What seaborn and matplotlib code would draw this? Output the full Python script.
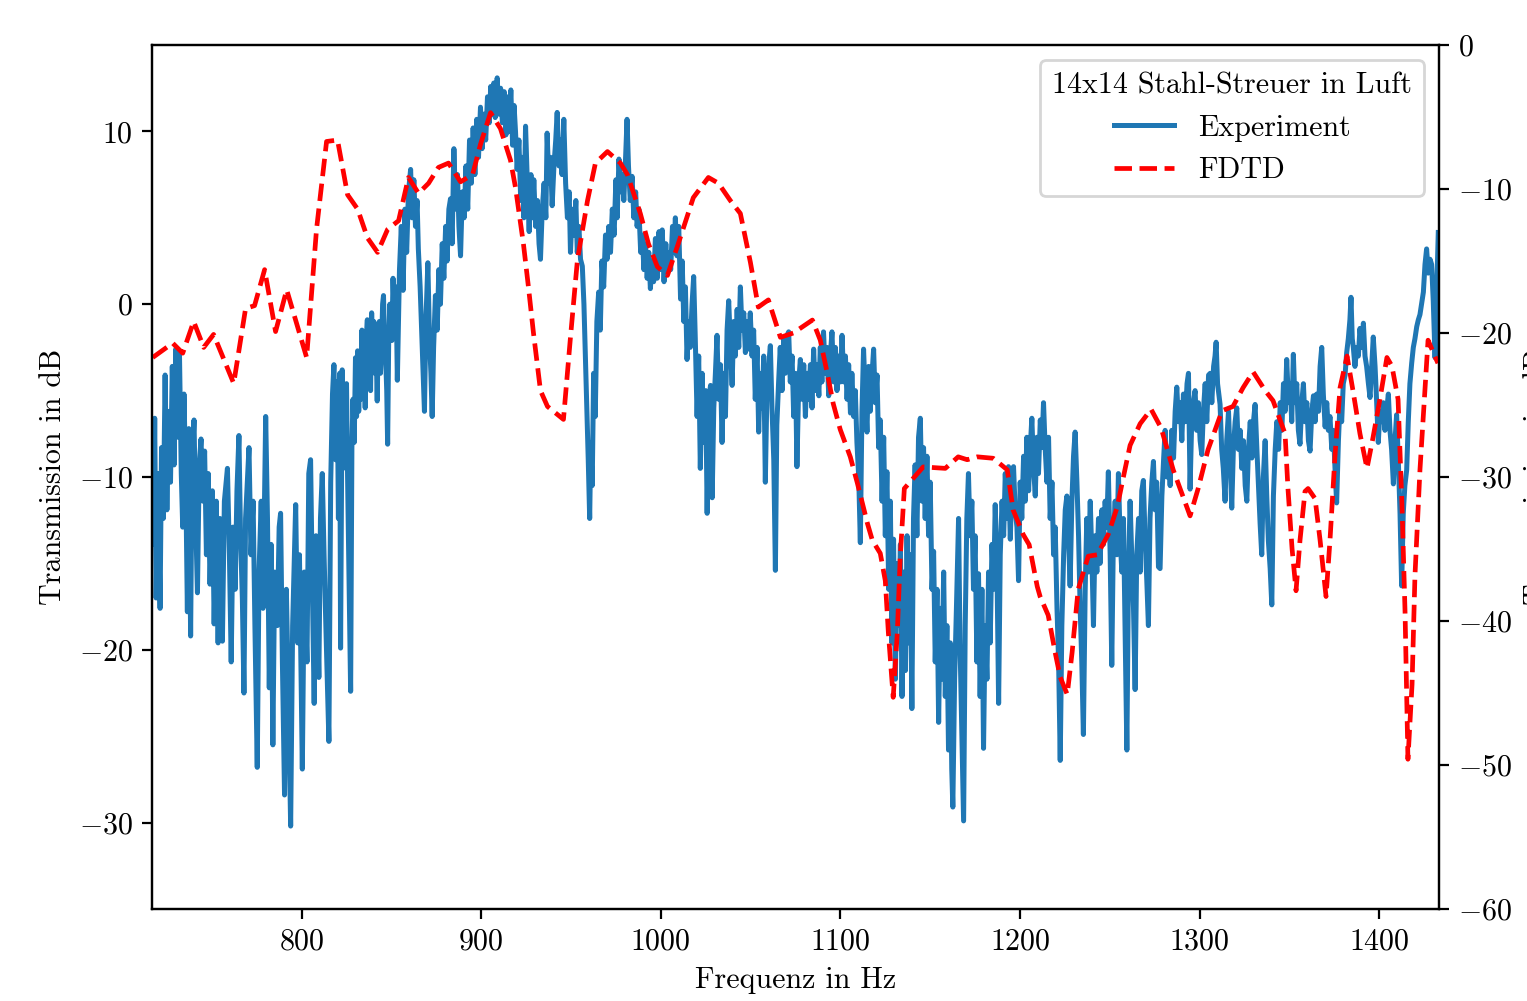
import numpy as np
import matplotlib
matplotlib.use("Agg")
import matplotlib.pyplot as plt
import seaborn as sns

# ---------------- data ----------------
title_text = "14x14 Stahl-Streuer in Luft"
series_names = ["Experiment", "FDTD"]
x_ticks = [800, 900, 1000, 1100, 1200, 1300, 1400]
left_ticks = [-30, -20, -10, 0, 10]
right_ticks = [-60, -50, -40, -30, -20, -10, 0]

# Experiment (Hz, dB) - left axis
exp_seg_a = [
    (716.7, -8.3), (717.5, -13.9), (718.2, -6.6), (719.0, -17.0), (720.0, -9.8), (721.2, -17.6),
    (722.0, -8.3), (723.0, -12.4), (724.0, -4.1), (725.0, -11.9), (726.0, -6.2), (727.0, -10.3),
    (728.0, -3.6), (729.0, -9.3), (729.9, -2.6), (731.0, -7.7), (732.0, -2.9), (733.0, -9.8),
    (733.8, -12.9), (734.5, -5.2), (735.5, -10.3), (736.4, -17.8), (737.2, -7.2), (738.2, -19.2),
    (739.0, -9.3), (740.1, -6.7), (741.0, -12.4), (742.0, -16.7), (743.0, -9.3), (744.0, -7.8),
    (745.0, -11.4), (746.0, -8.5), (747.0, -14.5), (748.0, -9.8), (749.0, -16.2), (750.3, -10.8),
    (751.3, -18.5), (752.5, -11.4), (753.5, -19.6), (754.5, -12.4), (755.9, -19.5), (757.0, -11.4),
    (758.7, -9.5), (759.8, -14.5), (760.8, -20.7), (761.8, -12.9), (763.0, -16.5), (764.0, -10.8),
    (765.1, -7.6), (766.0, -13.4), (767.0, -17.0), (767.9, -22.5), (768.8, -12.4), (770.0, -9.8),
    (770.7, -8.3), (771.8, -14.5), (773.0, -11.4), (774.0, -18.6), (775.3, -26.8), (776.3, -15.5),
    (777.5, -11.4), (778.5, -17.6), (780.0, -6.5), (781.0, -12.4), (782.0, -22.2), (783.0, -13.9),
    (784.0, -25.5), (785.0, -15.5), (786.5, -18.6), (787.5, -12.9), (788.3, -12.1), (789.3, -20.7),
    (790.5, -28.4), (791.5, -16.5), (792.5, -21.7), (793.9, -30.2), (795.0, -18.6), (796.7, -11.6),
    (797.8, -19.6), (798.8, -14.5), (800.4, -26.9), (801.5, -15.5), (803.0, -20.7), (804.0, -9.8),
    (805.0, -9.0), (806.0, -16.5), (807.0, -23.1), (808.0, -13.4), (809.6, -21.6), (810.5, -12.4),
    (811.5, -9.8), (812.5, -14.5), (813.5, -18.6), (815.2, -25.3), (816.2, -10.3), (817.2, -5.2),
    (818.0, -3.5), (818.9, -9.0), (819.8, -4.5), (820.5, -12.4), (821.2, -4.0), (821.7, -19.9),
    (822.6, -3.8), (823.1, -9.5), (823.6, -6.0), (824.2, -9.0), (825.0, -4.6), (825.6, -10.0),
    (826.2, -14.5), (827.3, -22.4), (828.0, -8.3), (828.6, -5.5), (829.3, -8.0), (830.0, -3.1),
    (830.6, -6.5), (831.2, -2.7), (831.8, -6.2), (832.4, -3.0), (833.0, -5.5), (833.6, -1.5),
    (834.2, -5.0), (834.8, -2.5), (835.4, -6.0), (836.0, -2.0), (836.6, -0.9), (837.2, -4.5),
    (837.8, -1.5), (838.4, -5.0), (839.0, -0.5), (839.6, -3.5), (840.2, -1.0), (840.8, -4.0),
    (841.4, -2.0), (842.1, -5.6), (842.7, -1.5), (843.3, -1.0), (843.9, -4.0), (844.5, -2.6),
    (845.1, 0.0), (845.6, 0.5), (846.2, -2.5), (846.8, -3.1), (847.4, -5.0), (847.9, -8.1),
    (848.5, -2.0), (849.1, 0.0), (849.7, -1.5), (850.3, -2.1), (850.9, 1.5), (851.5, -0.5),
    (852.0, -1.0), (852.6, 1.0), (853.3, -4.4),
]
exp_seg_b = [
    (854.5, 2.0), (855.5, 4.5), (856.5, 0.8), (857.5, 5.5), (858.5, 3.0), (859.5, 6.5),
    (860.7, 7.8), (861.5, 5.0), (862.5, 7.2), (863.4, 4.5), (864.3, 6.0), (865.0, 3.2),
    (866.0, 1.0), (867.0, -2.0), (868.0, -5.0), (868.4, -6.2), (869.2, -1.0), (870.3, 2.4),
    (871.2, -2.0), (872.0, -4.0), (872.7, -6.5), (873.5, -2.5), (874.5, 0.5), (875.5, -1.5),
    (876.4, 2.0), (877.3, 0.0), (878.3, 3.5), (879.2, 1.5), (880.2, 4.5), (881.0, 2.5),
    (882.0, 5.5), (882.9, 6.1), (883.8, 3.5), (884.8, 9.0), (885.8, 5.5), (886.8, 7.5),
    (887.6, 4.5), (888.5, 2.8), (889.5, 6.5), (890.5, 5.0), (891.5, 8.0), (892.5, 5.5),
    (893.5, 9.5), (894.5, 7.0), (895.5, 10.2), (896.5, 7.5), (897.5, 10.7), (898.5, 8.5),
    (899.6, 11.4), (900.5, 9.0), (901.5, 11.0), (902.5, 9.5), (903.5, 12.0), (904.5, 10.5),
    (905.3, 12.6), (906.1, 11.0), (907.0, 12.8), (907.8, 10.8), (908.9, 13.1), (909.8, 11.0),
    (910.8, 12.5), (911.8, 10.5), (912.8, 12.3), (913.8, 9.8), (914.5, 12.0), (915.5, 10.0),
    (916.5, 12.4), (917.5, 9.2), (918.3, 11.5), (919.1, 10.0), (920.0, 7.8), (921.0, 9.5),
    (922.0, 6.0), (922.8, 8.5), (923.8, 5.0), (924.7, 10.3), (925.7, 7.0), (926.7, 4.2),
    (927.7, 7.5), (928.5, 5.0), (929.3, 7.2), (930.3, 4.5), (931.3, 6.0), (932.2, 3.5),
    (933.0, 2.6), (934.0, 5.5), (935.0, 7.0), (936.0, 5.0), (936.7, 9.9), (937.7, 7.0),
    (938.6, 8.5), (939.5, 5.7), (940.5, 8.0), (941.5, 9.5), (942.3, 11.1), (943.3, 8.0),
    (944.2, 9.5), (945.0, 7.5), (946.0, 10.7), (947.0, 7.0), (948.0, 5.0), (949.0, 6.5),
    (949.7, 3.0), (950.7, 5.5), (951.7, 4.0), (952.7, 6.0), (953.5, 3.0), (954.4, 4.5),
    (955.3, 2.6), (956.3, 2.2), (957.2, 0.0), (958.0, -3.0), (958.8, -6.0), (959.6, -9.0),
    (960.4, -12.4), (961.0, -8.0), (961.8, -10.5), (962.6, -4.0), (963.5, -6.5), (964.4, -1.0),
    (965.4, 0.7), (966.3, -1.5), (967.2, 2.5), (968.2, 1.0), (969.2, 4.0), (970.1, 2.6),
    (971.0, 4.5), (972.0, 3.0), (973.0, 5.5), (974.0, 4.0), (975.0, 7.2), (975.7, 5.0),
    (976.7, 8.4), (977.6, 6.5), (978.6, 7.5), (979.4, 6.0), (980.4, 8.5), (981.2, 10.7),
    (982.0, 8.0), (983.0, 6.0), (984.0, 7.4), (985.0, 5.0), (986.0, 6.5), (986.8, 4.5),
    (987.8, 5.5), (988.8, 3.0), (989.7, 4.0), (990.6, 2.0), (991.5, 3.5), (992.4, 1.5),
    (993.3, 3.0), (994.2, 0.9), (995.1, 2.5), (996.0, 1.3), (997.0, 3.8), (998.0, 1.5),
    (999.0, 4.2), (999.8, 2.0),
]
exp_seg_c = [
    (1000.8, 4.3), (1001.8, 1.3), (1002.8, 3.5), (1003.5, 1.8), (1004.5, 3.0), (1005.5, 2.0),
    (1006.5, 4.5), (1007.3, 3.0), (1008.1, 5.0), (1009.0, 2.8), (1010.0, 4.5), (1011.0, 0.3),
    (1011.9, 2.5), (1012.8, -1.0), (1013.7, 1.0), (1014.6, -3.2), (1015.5, -1.0), (1016.4, -2.5),
    (1017.4, 0.0), (1018.3, 1.6), (1019.2, -2.0), (1020.2, -6.5), (1021.1, -3.0), (1022.0, -9.5),
    (1023.0, -4.0), (1024.0, -8.0), (1025.0, -5.0), (1025.8, -12.1), (1026.7, -5.5), (1027.7, -4.7),
    (1028.6, -11.2), (1029.5, -6.0), (1030.4, -4.0), (1031.3, -1.8), (1032.2, -5.5), (1033.2, -3.5),
    (1034.1, -8.0), (1035.0, -4.0), (1036.0, -6.5), (1036.9, -1.5), (1037.8, 0.2), (1038.8, -2.5),
    (1039.7, -4.7), (1040.6, -1.0), (1041.5, -3.0), (1042.5, -0.3), (1043.4, -2.5), (1044.3, 1.0),
    (1045.2, -1.5), (1046.2, -0.5), (1047.1, -2.8), (1048.0, -1.0), (1048.9, -2.6), (1049.8, -0.5),
    (1050.8, -3.0), (1051.7, -1.5), (1052.6, -5.5), (1053.6, -2.5), (1054.5, -7.4), (1055.4, -4.0),
    (1056.4, -6.0), (1057.3, -3.0), (1058.2, -10.3), (1059.1, -5.0), (1060.1, -3.5), (1061.0, -2.4),
    (1061.9, -6.0), (1062.9, -9.0), (1063.8, -15.4), (1064.6, -7.0), (1065.6, -4.5), (1066.5, -2.5),
    (1067.5, -5.0), (1068.4, -2.0), (1069.3, -4.0), (1070.3, -1.8), (1071.2, -1.6), (1072.1, -4.5),
    (1073.1, -3.0), (1074.0, -6.5), (1075.0, -4.0), (1075.8, -9.4), (1076.8, -4.5), (1077.7, -3.2),
    (1078.6, -5.5), (1079.6, -3.5), (1080.5, -6.5), (1081.4, -4.0), (1082.3, -5.5), (1083.3, -3.5),
    (1084.2, -6.0), (1085.1, -2.6), (1086.0, -5.0), (1087.0, -3.5), (1088.0, -5.3), (1088.8, -2.5),
    (1089.7, -4.5), (1090.6, -1.6), (1091.6, -4.0), (1092.5, -2.5), (1093.5, -5.3), (1094.4, -3.0),
    (1095.3, -1.6), (1096.3, -4.5), (1097.2, -2.5), (1098.1, -5.0), (1099.0, -3.0), (1100.0, -4.5),
    (1100.9, -1.8), (1101.9, -4.5), (1102.8, -3.0), (1103.7, -5.5), (1104.6, -3.5), (1105.6, -6.3),
    (1106.4, -4.0), (1107.4, -6.5), (1108.3, -5.0), (1109.2, -8.0), (1110.2, -10.0), (1111.1, -13.8),
]
exp_seg_d = [
    (1112.0, -6.2), (1112.9, -2.6), (1113.8, -5.2), (1114.8, -7.4), (1115.7, -3.6), (1116.6, -6.2),
    (1117.6, -4.1), (1118.5, -2.6), (1119.4, -5.7), (1120.4, -4.1), (1121.3, -8.3), (1122.2, -6.7),
    (1123.2, -11.4), (1124.1, -7.7), (1125.0, -13.4), (1125.9, -9.7), (1126.9, -16.5), (1127.8, -11.4),
    (1128.7, -19.6), (1129.6, -13.6), (1130.6, -21.7), (1131.5, -15.0), (1132.5, -18.6), (1133.4, -13.9),
    (1134.3, -22.7), (1135.2, -15.5), (1136.2, -21.2), (1137.1, -13.4), (1138.0, -19.6), (1138.9, -14.5),
    (1139.8, -23.4), (1140.7, -12.4), (1141.6, -9.3), (1142.6, -13.4), (1143.5, -7.7), (1144.5, -6.6),
    (1145.4, -11.4), (1146.3, -8.3), (1147.2, -12.4), (1148.2, -8.8), (1149.1, -13.4), (1150.0, -10.3),
    (1151.0, -16.5), (1151.9, -14.3), (1152.8, -20.7), (1153.8, -16.5), (1154.7, -24.2), (1155.6, -17.6),
    (1156.5, -21.7), (1157.5, -15.5), (1158.4, -22.7), (1159.3, -18.6), (1160.2, -25.8), (1161.2, -19.6),
    (1162.0, -26.9), (1162.6, -29.1), (1163.6, -21.7), (1164.6, -17.6), (1165.8, -12.4), (1166.6, -19.6),
    (1167.6, -24.8), (1168.6, -29.9), (1169.5, -18.6), (1170.4, -12.4), (1171.3, -9.8), (1172.2, -13.4),
    (1173.2, -11.4), (1174.1, -16.5), (1175.0, -13.4), (1176.0, -20.7), (1176.9, -15.6), (1177.8, -22.7),
    (1178.8, -16.5), (1179.7, -25.7), (1180.6, -18.6), (1181.6, -21.7), (1182.5, -15.5), (1183.4, -19.6),
    (1184.4, -13.9), (1185.3, -16.5), (1186.2, -11.6), (1187.2, -15.5), (1188.1, -23.1), (1189.0, -14.5),
    (1190.0, -11.4), (1190.9, -13.4), (1191.8, -9.8), (1192.8, -12.4), (1193.6, -9.4), (1194.6, -13.6),
    (1195.5, -10.3), (1196.4, -9.4), (1197.3, -11.9), (1198.3, -12.9), (1199.2, -16.0), (1200.1, -10.3),
    (1201.0, -12.4), (1202.0, -8.8), (1202.9, -11.4), (1203.8, -7.7), (1204.8, -10.8), (1205.7, -8.3),
    (1206.6, -6.6), (1207.5, -9.3), (1208.5, -11.1), (1209.4, -7.7), (1210.3, -9.8), (1211.3, -6.7),
    (1212.2, -8.3), (1213.1, -5.7), (1214.0, -8.3), (1215.0, -10.3), (1215.9, -7.7), (1216.8, -12.4),
    (1217.8, -10.3), (1218.7, -14.5), (1219.6, -12.9), (1220.6, -17.6), (1221.5, -20.7), (1222.4, -26.4),
    (1223.3, -18.6), (1224.3, -14.5), (1225.2, -11.9), (1226.1, -11.1), (1227.0, -13.4), (1227.9, -16.3),
    (1228.9, -11.4), (1229.8, -8.8), (1230.7, -7.4), (1231.7, -10.3), (1232.6, -13.4), (1233.5, -17.6),
    (1234.4, -20.7), (1235.3, -24.9), (1236.3, -16.5), (1237.2, -12.4), (1238.1, -15.5), (1239.1, -11.4),
    (1240.0, -14.5), (1240.9, -18.6), (1241.8, -13.4), (1242.8, -15.5), (1243.7, -12.4), (1244.6, -15.0),
    (1245.6, -11.9), (1246.5, -13.9), (1247.4, -11.4), (1248.3, -12.9), (1249.2, -9.7), (1250.2, -14.5),
    (1251.1, -20.9), (1252.0, -13.4), (1253.0, -11.4), (1253.9, -14.5), (1254.8, -9.8), (1255.7, -13.4),
    (1256.7, -15.5), (1257.6, -12.4), (1258.5, -18.6), (1259.5, -25.8), (1260.4, -15.5), (1261.3, -11.4),
    (1262.2, -14.5), (1263.2, -17.6), (1264.1, -22.3), (1265.0, -14.5), (1266.0, -12.4), (1266.9, -15.5),
    (1267.8, -10.8), (1268.7, -10.2), (1269.6, -13.4), (1270.6, -16.0), (1271.5, -18.6), (1272.4, -12.4),
    (1273.4, -10.3), (1274.3, -9.1), (1275.2, -11.9), (1276.1, -10.3), (1277.1, -15.2),
]
exp_seg_e = [
    (1278.0, -15.3), (1279.0, -11.1), (1280.0, -8.9), (1280.8, -7.3), (1281.8, -10.0), (1282.7, -8.4),
    (1283.6, -10.5), (1284.5, -7.3), (1285.5, -8.9), (1286.4, -6.2), (1287.3, -4.8), (1288.2, -6.8),
    (1289.2, -5.7), (1290.1, -7.9), (1291.0, -5.2), (1292.0, -6.8), (1293.0, -4.6), (1293.8, -4.0),
    (1294.7, -10.7), (1295.6, -6.8), (1296.5, -5.7), (1297.5, -5.0), (1298.4, -7.3), (1299.3, -5.7),
    (1300.3, -7.9), (1301.2, -8.7), (1302.1, -6.2), (1303.1, -4.6), (1304.0, -6.8), (1305.0, -4.1),
    (1305.9, -4.0), (1306.8, -5.7), (1307.8, -3.6), (1308.6, -3.0), (1309.2, -2.2), (1310.0, -4.6),
    (1311.4, -5.8), (1312.3, -8.4), (1313.2, -9.5), (1314.2, -11.4), (1315.1, -7.9), (1316.1, -6.2),
    (1317.0, -8.9), (1317.9, -11.8), (1318.8, -8.4), (1319.8, -6.8), (1320.7, -6.0), (1321.6, -8.4),
    (1322.6, -7.3), (1323.5, -9.5), (1324.4, -7.9), (1325.4, -10.5), (1326.3, -11.4), (1327.2, -8.4),
    (1328.2, -6.8), (1329.1, -8.9), (1330.0, -6.8), (1330.9, -5.8), (1331.9, -8.4), (1332.8, -10.5),
    (1333.7, -12.7), (1334.6, -14.5), (1335.5, -10.0), (1336.5, -7.9), (1337.4, -11.1), (1338.3, -13.7),
    (1339.3, -15.3), (1340.2, -17.4), (1341.1, -11.1), (1342.1, -8.4), (1343.0, -6.8), (1344.0, -8.4),
    (1344.9, -5.7), (1345.8, -7.3), (1346.7, -4.6), (1347.6, -6.2), (1348.5, -3.2), (1349.5, -5.7),
    (1350.4, -4.6), (1351.3, -6.8), (1352.2, -2.9), (1353.1, -5.7), (1354.1, -4.6), (1355.0, -7.3),
    (1355.9, -8.1), (1356.9, -5.7), (1357.8, -4.6), (1358.7, -6.8), (1359.7, -5.7), (1360.6, -7.9),
    (1361.5, -8.5), (1362.5, -6.2), (1363.4, -5.3), (1364.3, -6.8), (1365.2, -5.2), (1366.2, -6.2),
    (1367.1, -3.6), (1368.0, -2.5), (1368.9, -5.2), (1369.9, -7.1), (1370.8, -5.7), (1371.7, -7.3),
    (1372.6, -6.5), (1373.6, -8.4), (1374.5, -7.3), (1375.4, -9.5), (1376.3, -11.5), (1377.3, -7.9),
    (1378.2, -5.7), (1379.1, -6.8), (1380.0, -4.6), (1381.0, -4.1), (1381.9, -2.8), (1382.8, -2.0),
    (1383.7, -0.9), (1384.3, 0.4), (1385.0, -2.0), (1385.6, -2.5), (1386.5, -3.6), (1387.5, -2.5),
    (1388.4, -3.0), (1389.3, -1.4), (1390.2, -2.5), (1391.2, -1.1), (1392.1, -3.0), (1393.0, -3.6),
    (1394.0, -4.6), (1394.9, -5.4), (1395.8, -3.6), (1396.7, -1.9), (1397.7, -3.6), (1398.6, -5.7),
    (1399.5, -8.0), (1400.4, -6.2), (1401.4, -6.8), (1402.3, -5.7), (1403.2, -7.3), (1404.1, -6.2),
    (1405.1, -5.2), (1406.0, -7.3), (1406.9, -8.4), (1407.9, -10.4), (1408.8, -7.9), (1409.7, -6.4),
    (1410.6, -8.9), (1411.6, -12.1), (1412.5, -16.3), (1413.4, -12.1), (1414.3, -10.5), (1415.3, -9.6),
    (1416.2, -6.8), (1417.1, -4.6), (1418.1, -3.4), (1419.0, -2.5), (1419.9, -2.0), (1420.9, -1.3),
    (1421.8, -0.9), (1422.7, -0.6), (1423.6, 0.0), (1424.6, 0.7), (1425.5, 2.3), (1426.4, 3.2),
    (1427.3, 1.8), (1428.3, 2.6), (1429.2, 2.3), (1430.1, 0.2), (1431.1, -3.1), (1432.0, 0.7),
    (1432.9, 4.15),
]

# FDTD (Hz, dB) - right axis
fdtd_points = [
    (717.1, -21.7), (728.2, -20.7), (733.8, -21.4), (739.9, -19.2), (745.5, -21.0), (751.0, -20.1),
    (762.2, -23.5), (768.8, -18.3), (773.8, -18.1), (779.4, -15.6), (785.5, -19.9), (791.7, -17.0),
    (802.8, -21.7), (808.3, -12.8), (813.9, -6.7), (820.0, -6.6), (825.6, -10.4), (831.2, -11.4),
    (836.7, -13.4), (842.3, -14.4), (847.9, -12.8), (854.0, -12.2), (859.5, -9.2), (865.1, -10.3),
    (870.7, -9.6), (876.2, -8.5), (881.8, -8.2), (888.5, -9.5), (895.2, -9.0), (899.6, -6.9),
    (905.2, -4.7), (910.7, -5.8), (916.3, -8.0), (919.1, -9.9), (923.5, -13.8), (926.3, -16.8),
    (929.1, -20.0), (933.0, -24.0), (936.9, -25.1), (945.8, -26.0), (949.7, -20.3), (953.6, -14.9),
    (959.2, -10.8), (963.6, -8.2), (970.3, -7.4), (977.5, -8.2), (981.4, -9.0), (988.6, -11.7),
    (993.1, -13.8), (998.1, -15.4), (1003.7, -16.0), (1009.2, -14.0), (1018.1, -10.6), (1026.5, -9.2),
    (1032.1, -9.6), (1038.7, -10.8), (1044.3, -11.7), (1049.9, -15.1), (1054.3, -18.2), (1059.9, -17.7),
    (1066.6, -20.3), (1073.8, -20.0), (1084.4, -19.1), (1088.8, -20.5), (1092.7, -22.8), (1096.0, -24.9),
    (1099.9, -26.7), (1105.5, -28.6), (1109.4, -30.4), (1115.0, -33.2), (1117.8, -34.4), (1122.2, -35.3),
    (1125.0, -37.2), (1126.7, -40.8), (1129.4, -45.3), (1131.7, -40.8), (1133.3, -35.6), (1135.6, -30.8),
    (1146.1, -29.3), (1158.4, -29.4), (1165.6, -28.6), (1170.6, -28.8), (1176.2, -28.6), (1185.1, -28.7),
    (1192.9, -29.5), (1196.2, -32.3), (1201.8, -34.0), (1205.1, -34.7), (1209.6, -37.6), (1211.2, -38.3),
    (1215.7, -39.6), (1219.6, -42.2), (1222.4, -43.9), (1226.3, -45.1), (1229.0, -42.2), (1232.4, -37.8),
    (1238.0, -35.5), (1243.0, -35.4), (1249.1, -34.0), (1254.1, -32.1), (1257.4, -30.1), (1261.3, -27.8),
    (1266.9, -26.3), (1273.0, -25.3), (1278.6, -26.6), (1285.3, -29.5), (1290.3, -31.2), (1294.7, -32.7),
    (1299.2, -30.8), (1304.7, -28.1), (1312.5, -25.4), (1318.6, -25.1), (1324.2, -23.8), (1329.8, -22.7),
    (1336.5, -24.0), (1340.9, -24.7), (1347.6, -27.0), (1349.2, -30.8), (1351.5, -35.0), (1353.7, -37.9),
    (1355.9, -34.4), (1358.7, -31.0), (1360.4, -30.8), (1364.3, -31.5), (1367.1, -34.4), (1370.4, -38.3),
    (1372.6, -34.4), (1375.4, -28.5), (1378.2, -23.8), (1382.1, -21.6), (1385.4, -24.0), (1389.3, -27.0),
    (1393.2, -29.4), (1396.5, -27.3), (1400.4, -24.6), (1404.3, -21.7), (1407.1, -22.3), (1410.5, -24.6),
    (1412.7, -32.0), (1414.4, -39.4), (1416.0, -49.6), (1418.3, -44.4), (1419.9, -36.9), (1422.7, -29.5),
    (1427.2, -20.5), (1432.7, -22.1),
]

# ---------------- styling ----------------
plt.rcParams["font.family"] = ["cmr10"]
plt.rcParams["mathtext.fontset"] = "cm"
plt.rcParams["axes.formatter.use_mathtext"] = True
plt.rcParams["axes.unicode_minus"] = True
FS = 10.8
plt.rcParams["font.size"] = FS

exp_all = exp_seg_a + exp_seg_b + exp_seg_c + exp_seg_d + exp_seg_e
exp_f = np.array([p[0] for p in exp_all])
exp_v = np.array([p[1] for p in exp_all])
fd_f = np.array([p[0] for p in fdtd_points])
fd_v = np.array([p[1] for p in fdtd_points])

fig = plt.figure(figsize=(1527 / 200, 1001 / 200), dpi=200)
ax = fig.add_axes([152 / 1527, 1 - 909 / 1001, (1439 - 152) / 1527, (909 - 45) / 1001])

sns.lineplot(x=exp_f, y=exp_v, ax=ax, sort=False, estimator=None,
             color="#1f77b4", linewidth=1.8, label=series_names[0], legend=False)
ax.set_xlim(716.7, 1433.3)
ax.set_ylim(-35, 15)
ax.set_xticks(x_ticks)
ax.set_yticks(left_ticks)
ax.set_xlabel("Frequenz in Hz", fontsize=FS)
ax.set_ylabel("Transmission in dB", fontsize=FS)

ax2 = ax.twinx()
sns.lineplot(x=fd_f, y=fd_v, ax=ax2, sort=False, estimator=None,
             color="red", linewidth=1.7, linestyle="--", label=series_names[1], legend=False)
ax2.set_ylim(-60, 0)
ax2.set_yticks(right_ticks)
ax2.set_ylabel("Transmission in dB", fontsize=FS)
ax2.set_xlim(716.7, 1433.3)

for a in (ax, ax2):
    a.tick_params(labelsize=FS)

h1 = ax.get_lines()[0]
h2 = ax2.get_lines()[0]
leg = ax2.legend([h1, h2], series_names, title=title_text, loc="upper right",
                 fontsize=FS, title_fontsize=FS)

fig.savefig("out.png", dpi=200)
